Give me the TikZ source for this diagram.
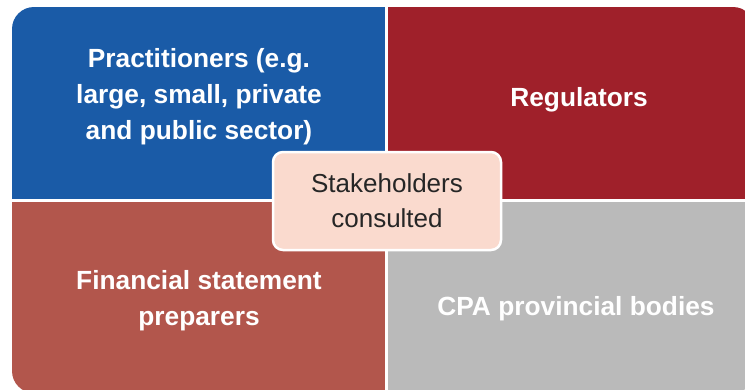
\documentclass[tikz,border=0pt]{standalone}
\usepackage{fontspec}
\setmainfont{Liberation Sans}
\usepackage{tikz}
\usetikzlibrary{positioning}
\usepackage{xcolor}

\definecolor{quadblue}{RGB}{26,91,167}
\definecolor{quadred}{RGB}{159,32,42}
\definecolor{quadbrown}{RGB}{178,86,76}
\definecolor{quadgray}{RGB}{186,186,186}
\definecolor{hubpink}{RGB}{250,218,206}
\definecolor{hubtext}{RGB}{38,38,38}

\begin{document}
\begin{tikzpicture}[x=1pt, y=-1pt,
  quad/.style={inner sep=0pt, outer sep=0pt, anchor=north west, minimum width=373pt, minimum height=192pt},
  lbl/.style={text=white, align=center, inner sep=0pt, font=\fontsize{26.3}{36.2}\selectfont\bfseries},
  hub/.style={draw=white, line width=2.5pt, fill=hubpink, rounded corners=10pt, minimum width=228pt,
    minimum height=98pt, align=center, text=hubtext, font=\fontsize{26}{35}\selectfont}]

\useasboundingbox (0,0) rectangle (745,389);

% Quadranti, ritagliati sul rettangolo arrotondato esterno
\begin{scope}
\clip[rounded corners=22pt] (12,7) rectangle (755,393);
\node[quad, fill=quadblue]  (prac) at (12,7)    {};
\node[quad, fill=quadred]   (regu) at (388,7)   {};
\node[quad, fill=quadbrown] (prep) at (12,202)  {};
\node[quad, fill=quadgray]  (cpab) at (388,202) {};
\end{scope}

% Testi dei quadranti
\node[lbl] (pracT) at (199,96.5) {Practitioners (e.g.\\large, small, private\\and public sector)};
\node[lbl] (reguT) at (579,100)  {Regulators};
\node[lbl] (prepT) at (199,301)  {Financial statement\\preparers};
\node[lbl] (cpabT) at (576,309)  {CPA provincial bodies};

% Riquadro centrale
\node[hub] (stak) at (387,201) {Stakeholders\\consulted};

\end{tikzpicture}
\end{document}
